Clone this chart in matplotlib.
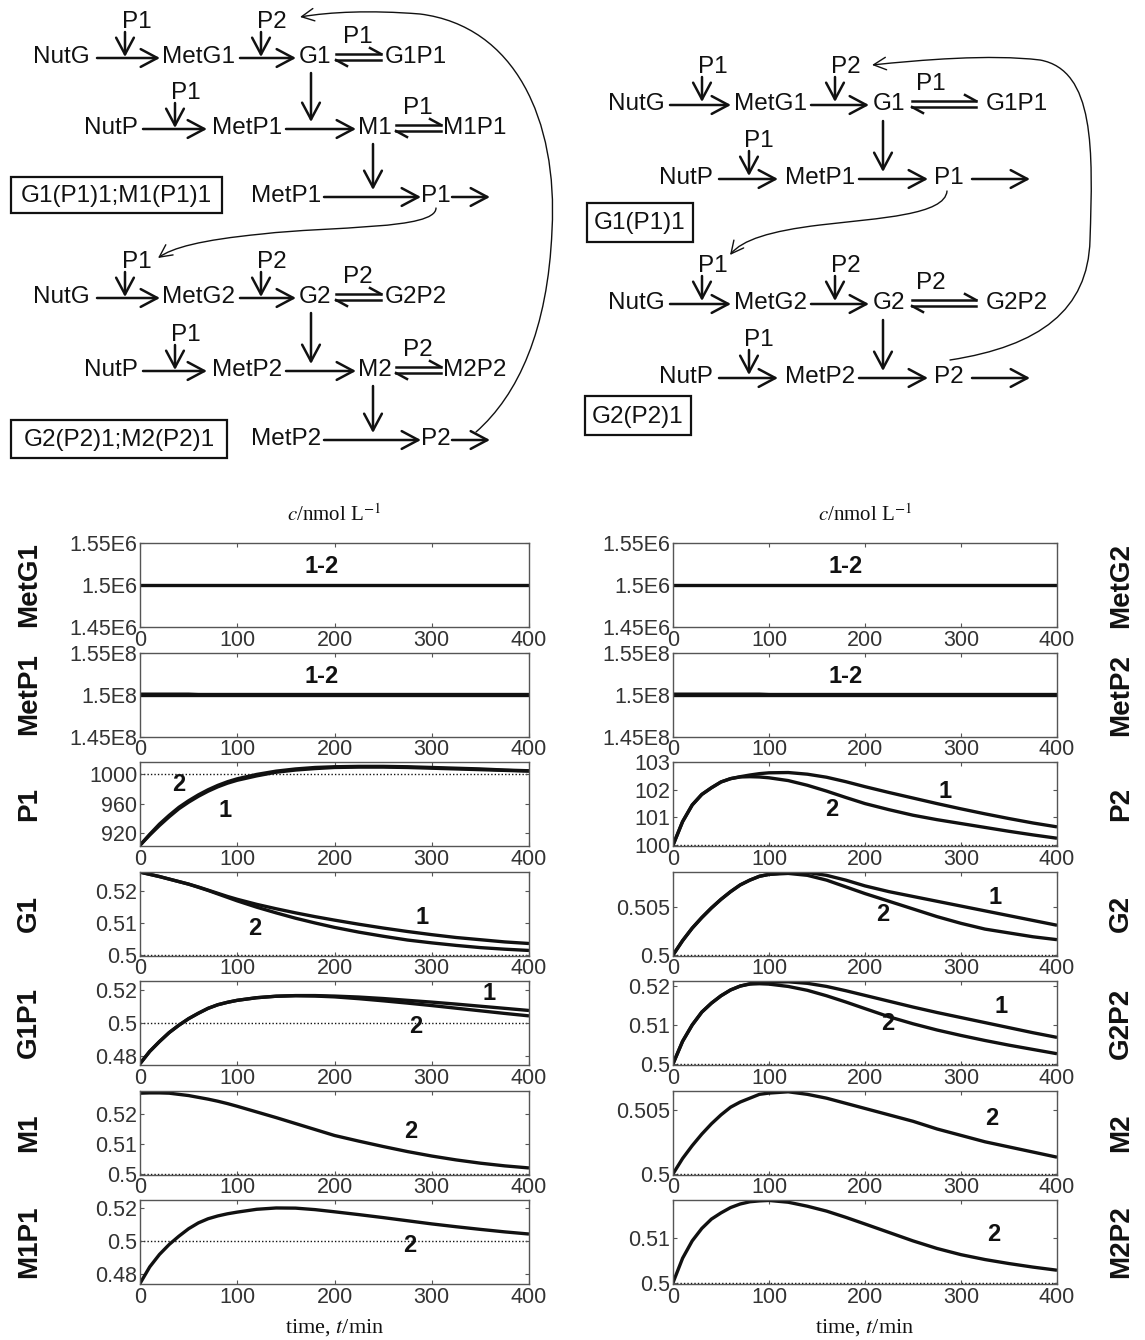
import numpy as np
import matplotlib.pyplot as plt
from matplotlib.path import Path
from matplotlib.patches import FancyArrowPatch, Rectangle

plt.rcParams['font.family'] = ['Liberation Sans', 'DejaVu Sans']
plt.rcParams['mathtext.fontset'] = 'stix'

W, H = 1145, 1340
INK = "#111111"
TICK = "#333333"

# ---------------- data ----------------
t = [0, 10, 20, 30, 40, 50, 60, 70, 80, 90, 100, 120, 140, 160, 180,
     200, 225, 250, 275, 300, 325, 350, 375, 400]

metg1 = [1.5e6] * len(t)
metp1_1 = [1.5e8] * len(t)
metp1_2 = [1.5004e8] * 6 + [1.5e8] * 18

p1_1 = [903, 917, 930, 942, 953, 962, 970, 977, 983, 988, 992, 998, 1003, 1006, 1008,
        1009.5, 1010, 1010, 1009.5, 1008.5, 1007.5, 1006.5, 1005.5, 1004.5]
p1_2 = [903, 918, 932, 944, 955, 964, 972, 979, 985, 990, 994, 1000, 1004.5, 1007.5, 1009.5,
        1010.5, 1011, 1011, 1010.5, 1009.5, 1008.5, 1007.5, 1006, 1005]

g1_1 = [.5261, .5254, .5247, .5239, .5231, .5223, .5214, .5204, .5194, .5184, .5175, .5159,
        .5145, .5132, .5120, .5109, .5096, .5084, .5073, .5063, .5054, .5047, .5040, .5035]
g1_2 = [.5261, .5254, .5247, .5239, .5231, .5223, .5213, .5203, .5192, .5181, .5170, .5150,
        .5132, .5115, .5100, .5086, .5071, .5058, .5046, .5037, .5029, .5022, .5017, .5013]

g1p1_1 = [.4750, .4825, .4885, .4940, .4985, .5025, .5058, .5088, .5110, .5125, .5137, .5153,
          .5162, .5166, .5166, .5163, .5157, .5148, .5137, .5126, .5114, .5101, .5088, .5075]
g1p1_2 = [.4750, .4825, .4885, .4940, .4985, .5025, .5058, .5088, .5110, .5125, .5137, .5153,
          .5162, .5165, .5163, .5158, .5147, .5134, .5120, .5105, .5089, .5073, .5057, .5042]

m1_2 = [.5270, .5271, .5271, .5270, .5266, .5262, .5256, .5250, .5243, .5235, .5226, .5207,
        .5188, .5168, .5148, .5128, .5109, .5091, .5074, .5059, .5046, .5035, .5026, .5019]

m1p1_2 = [.4745, .4845, .4920, .4980, .5030, .5075, .5110, .5135, .5152, .5165, .5175, .5192,
          .5200, .5199, .5190, .5177, .5160, .5142, .5123, .5104, .5087, .5071, .5056, .5043]

metg2 = [1.5e6] * len(t)
metp2_1 = [1.5e8] * len(t)
metp2_2 = [1.5004e8] * 10 + [1.5e8] * 14

p2_1 = [100.0, 100.85, 101.45, 101.83, 102.07, 102.28, 102.40, 102.47, 102.53, 102.58, 102.61,
        102.62, 102.56, 102.45, 102.29, 102.11, 101.90, 101.70, 101.50, 101.31, 101.13, 100.96,
        100.80, 100.66]
p2_2 = [100.0, 100.85, 101.45, 101.83, 102.07, 102.28, 102.40, 102.46, 102.47, 102.46, 102.43,
        102.33, 102.16, 101.95, 101.72, 101.50, 101.28, 101.08, 100.92, 100.78, 100.64, 100.50,
        100.37, 100.25]

g2_1 = [.5000, .5015, .5028, .5039, .5049, .5058, .5066, .5073, .5078, .5082, .5084, .5086,
        .5086, .5083, .5078, .5072, .5066, .5061, .5056, .5051, .5046, .5041, .5036, .5031]
g2_2 = [.5000, .5015, .5028, .5039, .5049, .5058, .5066, .5073, .5078, .5082, .5084, .5085,
        .5083, .5078, .5071, .5064, .5056, .5048, .5040, .5033, .5027, .5023, .5019, .5016]

g2p2_1 = [.5000, .5058, .5100, .5133, .5156, .5175, .5190, .5200, .5206, .5209, .5210, .5211,
          .5207, .5199, .5188, .5176, .5161, .5146, .5132, .5119, .5106, .5093, .5080, .5068]
g2p2_2 = [.5000, .5058, .5100, .5133, .5156, .5175, .5190, .5200, .5205, .5206, .5205, .5199,
          .5189, .5175, .5159, .5142, .5121, .5103, .5087, .5073, .5060, .5048, .5037, .5026]

m2_2 = [.5000, .5012, .5022, .5031, .5039, .5046, .5052, .5056, .5059, .5062, .5063, .5064,
        .5062, .5059, .5055, .5051, .5046, .5041, .5035, .5030, .5025, .5021, .5017, .5013]

m2p2_2 = [.5000, .5055, .5094, .5122, .5143, .5157, .5169, .5177, .5182, .5184, .5185, .5181,
          .5172, .5161, .5147, .5132, .5113, .5094, .5077, .5063, .5052, .5043, .5035, .5028]

x_ticks = [0, 100, 200, 300, 400]

# ---------------- figure ----------------
fig = plt.figure(figsize=(W / 100, H / 100), dpi=100)
fig.patch.set_facecolor("white")

dg = fig.add_axes([0, 0, 1, 1])
dg.set_xlim(0, W)
dg.set_ylim(H, 0)
dg.axis("off")
dg.patch.set_alpha(0)

FS = 17.5
LW = 1.8


def txt(x, y, s, **kw):
    dg.text(x, y, s, ha="center", va="center", fontsize=FS, color=INK, **kw)


def arr(x0, y0, x1, y1):
    dg.annotate("", xy=(x1, y1), xytext=(x0, y0),
                arrowprops=dict(arrowstyle="->,head_length=0.6,head_width=0.32", lw=LW,
                                color=INK, shrinkA=0, shrinkB=0, mutation_scale=20))


def rev(x0, x1, y):
    yt, yb = y - 3, y + 3
    dg.plot([x0, x1], [yt, yt], color=INK, lw=LW)
    dg.plot([x1 - 11, x1], [yt - 6, yt], color=INK, lw=LW)
    dg.plot([x0, x1], [yb, yb], color=INK, lw=LW)
    dg.plot([x0, x0 + 11], [yb, yb + 6], color=INK, lw=LW)


def curve(verts, codes):
    p = FancyArrowPatch(path=Path(verts, codes), arrowstyle="->,head_length=0.5,head_width=0.25",
                        lw=1.0, color=INK, mutation_scale=18)
    dg.add_patch(p)


def box(x0, y0, x1, y1, s):
    dg.add_patch(Rectangle((x0, y0), x1 - x0, y1 - y0, fill=False, lw=1.6, ec=INK))
    txt((x0 + x1) / 2, (y0 + y1) / 2 + 1, s)


# left diagram, one block per gene pair
def left_block(y_a, y_b, y_c, g, mg, mp, m, p, gp, mpp):
    txt(61, y_a, "NutG"); txt(199, y_a, mg); txt(315, y_a, g); txt(416, y_a, gp)
    txt(137, y_a - 35, "P1"); arr(125, y_a - 25, 125, y_a)
    txt(272, y_a - 35, "P2"); arr(261, y_a - 25, 261, y_a)
    arr(97, y_a + 1, 160, y_a + 1); arr(240, y_a + 1, 296, y_a + 1)
    rev(336, 381, y_a); txt(358, y_a - 20, p)
    arr(311, y_a + 16, 311, y_b - 6)
    txt(111, y_b, "NutP"); txt(247, y_b, mp); txt(375, y_b, m); txt(475, y_b, mpp)
    txt(186, y_b - 35, "P1"); arr(175, y_b - 25, 175, y_b)
    arr(143, y_b + 1, 207, y_b + 1); arr(286, y_b + 1, 356, y_b + 1)
    rev(396, 441, y_b); txt(418, y_b - 20, p)
    arr(373, y_b + 16, 373, y_c - 6)
    txt(286, y_c, mp); txt(436, y_c, p)
    arr(324, y_c + 1, 421, y_c + 1); arr(452, y_c + 1, 490, y_c + 1)


left_block(57, 128, 196, "G1", "MetG1", "MetP1", "M1", "P1", "G1P1", "M1P1")
left_block(297, 370, 439, "G2", "MetG2", "MetP2", "M2", "P2", "G2P2", "M2P2")
box(11, 177, 222, 213, "G1(P1)1;M1(P1)1")
box(11, 420, 227, 458, "G2(P2)1;M2(P2)1")

C4 = Path.CURVE4
curve([(436, 208), (436, 230), (330, 226), (262, 234), (200, 240), (172, 248), (158, 258)],
      [Path.MOVETO, C4, C4, C4, C4, C4, C4])
curve([(476, 432), (518, 395), (548, 330), (552, 230), (558, 120), (515, 26), (420, 14),
       (370, 10), (330, 12), (300, 17)],
      [Path.MOVETO, C4, C4, C4, C4, C4, C4, C4, C4, C4])


def right_block(y_a, y_b, g, mg, mp, p, gp):
    txt(636, y_a, "NutG"); txt(771, y_a, mg); txt(889, y_a, g); txt(1017, y_a, gp)
    txt(713, y_a - 37, "P1"); arr(702, y_a - 27, 702, y_a - 2)
    txt(846, y_a - 37, "P2"); arr(835, y_a - 27, 835, y_a - 2)
    arr(670, y_a + 1, 731, y_a + 1); arr(811, y_a + 1, 869, y_a + 1)
    rev(912, 976, y_a); txt(931, y_a - 20, p)
    arr(883, y_a + 17, 883, y_b - 6)
    txt(686, y_b, "NutP"); txt(820, y_b, mp); txt(949, y_b, p)
    txt(759, y_b - 37, "P1"); arr(749, y_b - 27, 749, y_b - 2)
    arr(719, y_b + 1, 778, y_b + 1); arr(859, y_b + 1, 928, y_b + 1); arr(972, y_b + 1, 1030, y_b + 1)


right_block(104, 178, "G1", "MetG1", "MetP1", "P1", "G1P1")
right_block(303, 377, "G2", "MetG2", "MetP2", "P2", "G2P2")
box(587, 203, 693, 242, "G1(P1)1")
box(585, 396, 691, 435, "G2(P2)1")
curve([(947, 191), (945, 215), (880, 218), (820, 225), (770, 231), (742, 240), (730, 255)],
      [Path.MOVETO, C4, C4, C4, C4, C4, C4])
curve([(950, 360), (1040, 346), (1088, 310), (1090, 240), (1093, 150), (1095, 70), (1040, 60),
       (990, 54), (920, 60), (872, 65)],
      [Path.MOVETO, C4, C4, C4, C4, C4, C4, C4, C4, C4])

# ---------------- time-course panels ----------------
ROW_TOP = [543 + 109.5 * i for i in range(7)]
AX_H = 84
COLS = [(140, 389), (673, 384)]


def make_ax(col, row):
    l, w = COLS[col]
    top = ROW_TOP[row]
    ax = fig.add_axes([l / W, 1 - (top + AX_H) / H, w / W, AX_H / H])
    ax.set_xlim(0, 400)
    ax.set_xticks(x_ticks)
    ax.tick_params(direction="in", length=3, width=0.8, top=True, right=True,
                   labelsize=15.5, labelcolor=TICK, color="#555555", pad=2)
    for s in ax.spines.values():
        s.set_color("#555555")
        s.set_linewidth(1.0)
    return ax


panels = [
    # col, row, name, series, ylim, yticks, yticklabels, ref, labels
    (0, 0, "MetG1", [metg1], (1.45e6, 1.55e6), [1.45e6, 1.5e6, 1.55e6], ["1.45E6", "1.5E6", "1.55E6"],
     None, [(187, 1.522e6, "1-2")]),
    (0, 1, "MetP1", [metp1_1, metp1_2], (1.45e8, 1.55e8), [1.45e8, 1.5e8, 1.55e8],
     ["1.45E8", "1.5E8", "1.55E8"], None, [(187, 1.522e8, "1-2")]),
    (0, 2, "P1", [p1_1, p1_2], (902, 1017), [920, 960, 1000], ["920", "960", "1000"], 1000,
     [(40, 986, "2"), (87, 950, "1")]),
    (0, 3, "G1", [g1_1, g1_2], (0.4997, 0.5263), [0.5, 0.51, 0.52], ["0.5", "0.51", "0.52"], 0.5,
     [(290, 0.5117, "1"), (118, 0.5083, "2")]),
    (0, 4, "G1P1", [g1p1_1, g1p1_2], (0.4742, 0.5255), [0.48, 0.5, 0.52], ["0.48", "0.5", "0.52"], 0.5,
     [(359, 0.5180, "1"), (284, 0.4975, "2")]),
    (0, 5, "M1", [m1_2], (0.4997, 0.5279), [0.5, 0.51, 0.52], ["0.5", "0.51", "0.52"], 0.5,
     [(278, 0.5142, "2")]),
    (0, 6, "M1P1", [m1p1_2], (0.4742, 0.5248), [0.48, 0.5, 0.52], ["0.48", "0.5", "0.52"], 0.5,
     [(277, 0.4975, "2")]),
    (1, 0, "MetG2", [metg2], (1.45e6, 1.55e6), [1.45e6, 1.5e6, 1.55e6], ["1.45E6", "1.5E6", "1.55E6"],
     None, [(180, 1.522e6, "1-2")]),
    (1, 1, "MetP2", [metp2_1, metp2_2], (1.45e8, 1.55e8), [1.45e8, 1.5e8, 1.55e8],
     ["1.45E8", "1.5E8", "1.55E8"], None, [(180, 1.522e8, "1-2")]),
    (1, 2, "P2", [p2_1, p2_2], (99.97, 103), [100, 101, 102, 103], ["100", "101", "102", "103"], 100,
     [(283, 101.94, "1"), (165, 101.3, "2")]),
    (1, 3, "G2", [g2_1, g2_2], (0.49995, 0.5087), [0.5, 0.505], ["0.5", "0.505"], 0.5,
     [(336, 0.5060, "1"), (218, 0.5042, "2")]),
    (1, 4, "G2P2", [g2p2_1, g2p2_2], (0.4997, 0.5213), [0.5, 0.51, 0.52], ["0.5", "0.51", "0.52"], 0.5,
     [(342, 0.5147, "1"), (224, 0.5104, "2")]),
    (1, 5, "M2", [m2_2], (0.49995, 0.5065), [0.5, 0.505], ["0.5", "0.505"], 0.5,
     [(332, 0.5043, "2")]),
    (1, 6, "M2P2", [m2p2_2], (0.4997, 0.5186), [0.5, 0.51], ["0.5", "0.51"], 0.5,
     [(334, 0.5109, "2")]),
]

for col, row, name, series, ylim, yt, ytl, ref, labels in panels:
    ax = make_ax(col, row)
    if ref is not None:
        ax.axhline(ref, color=INK, lw=1.0, ls=(0, (1, 1.5)), zorder=1)
    for s in series:
        ax.plot(t, s, color=INK, lw=2.4, solid_capstyle="butt", zorder=2)
    ax.set_ylim(*ylim)
    ax.set_yticks(yt)
    ax.set_yticklabels(ytl)
    for x, y, s in labels:
        ax.text(x, y, s, ha="center", va="center", fontsize=17, fontweight="bold", color=INK)
    yc = 1 - (ROW_TOP[row] + AX_H / 2) / H
    xl = 29 / W if col == 0 else 1121 / W
    fig.text(xl, yc, name, rotation=90, ha="center", va="center", fontsize=20,
             fontweight="bold", color=INK)

for col in range(2):
    l, w = COLS[col]
    xc = (l + w / 2) / W
    fig.text(xc, 1 - 515 / H, r"$c$/nmol L$^{-1}$", ha="center", va="center", fontsize=15,
             family=["Liberation Serif", "DejaVu Serif"], color=INK)
    fig.text(xc, 1 - 1328 / H, r"time, $t$/min", ha="center", va="center", fontsize=16,
             family=["Liberation Serif", "DejaVu Serif"], color=INK)

fig.savefig("out.png", dpi=100, facecolor="white")
